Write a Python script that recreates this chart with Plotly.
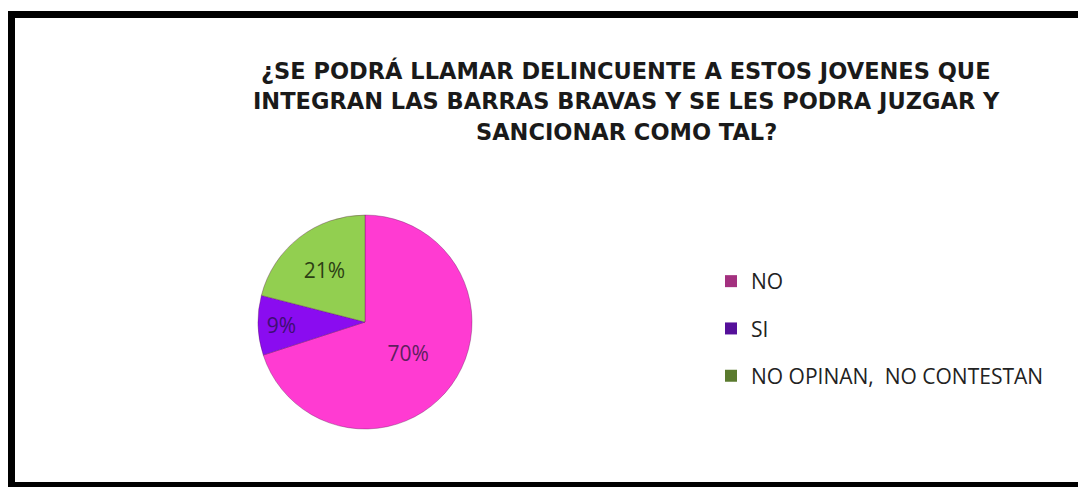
import plotly.graph_objects as go

# survey answers
labels = ["NO", "SI", "NO OPINAN,  NO CONTESTAN"]
values = [70, 9, 21]
slice_colors = ["#FF3BD2", "#8A0CF0", "#92CF50"]
legend_colors = ["#A3307F", "#55109A", "#5A7A2E"]
text_colors = ["#5E1F5E", "#3E0F72", "#2D3F14"]

title_lines = [
    "¿SE PODRÁ LLAMAR DELINCUENTE A ESTOS JOVENES QUE",
    "INTEGRAN LAS BARRAS BRAVAS Y SE LES PODRA JUZGAR Y",
    "SANCIONAR COMO TAL?",
]

W, H = 1078, 487

def px(x):
    return x / W

def py(y):
    return 1 - y / H

fig = go.Figure()

fig.add_trace(go.Pie(
    labels=labels, values=values, sort=False, direction="clockwise", rotation=0,
    marker={"colors": slice_colors, "line": {"color": "rgba(90,20,80,0.35)", "width": 1}},
    textinfo="percent", textposition="inside", insidetextorientation="horizontal",
    textfont={"family": "Open Sans", "size": 21, "color": text_colors},
    showlegend=False, hoverinfo="label+percent",
    domain={"x": [px(258), px(472)], "y": [py(429), py(215)]},
))

# legend entries (darker swatches, as in the original)
for i, (lab, col) in enumerate(zip(labels, legend_colors)):
    fig.add_trace(go.Scatter(
        x=[None], y=[None], mode="markers", name=lab, legendgroup=str(i),
        marker={"symbol": "square", "size": 12, "color": col},
    ))

for i, line in enumerate(title_lines):
    fig.add_annotation(
        text="<b>" + line + "</b>", x=px(626), y=py(70 + i * 31),
        xref="paper", yref="paper", showarrow=False, xanchor="center", yanchor="middle",
        font={"family": "DejaVu Sans", "size": 22.5, "color": "#1a1a1a"},
    )

# black frame
frame = [
    (8, 11, W, 18),
    (8, 11, 15, H),
    (8, 482, W, H),
]
for x0, y0, x1, y1 in frame:
    fig.add_shape(type="rect", xref="paper", yref="paper",
                  x0=px(x0), x1=px(x1), y0=py(y1), y1=py(y0),
                  fillcolor="black", line={"width": 0})

fig.update_layout(
    width=W, height=H,
    margin={"l": 0, "r": 0, "t": 0, "b": 0},
    paper_bgcolor="white", plot_bgcolor="white",
    xaxis={"visible": False}, yaxis={"visible": False},
    legend={"x": px(711), "y": py(261), "xanchor": "left", "yanchor": "top",
            "font": {"family": "Open Sans", "size": 21, "color": "#222"},
            "tracegroupgap": 17, "itemwidth": 30, "bgcolor": "rgba(0,0,0,0)"},
)

fig.write_html("out.html", config={"displayModeBar": False},
               post_script="document.body.style.margin='0';")
